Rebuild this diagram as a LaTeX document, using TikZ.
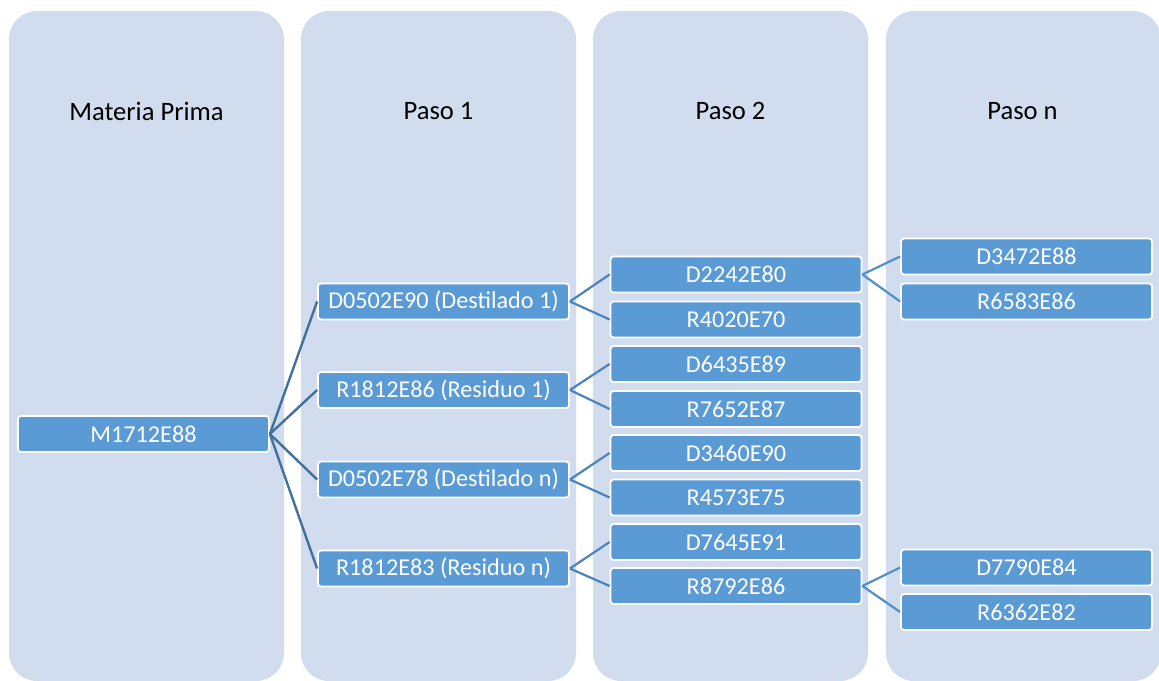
\documentclass[tikz,border=0pt]{standalone}
\usepackage{fontspec}
\setmainfont{Carlito}
\definecolor{lanefill}{HTML}{D1DDEE}
\definecolor{boxfill}{HTML}{5B9BD5}
\definecolor{linkA}{HTML}{41719C}
\definecolor{linkB}{HTML}{4A84BE}
\definecolor{linkC}{HTML}{5290CB}
\tikzset{
  lane/.style={fill=lanefill, draw=none, rounded corners=28pt},
  lanetitle/.style={font=\fontsize{26.6}{30}\selectfont, text=black, anchor=center},
  item/.style={rectangle, rounded corners=3pt, fill=boxfill, draw=white, line width=1.8pt,
    minimum width=251pt, minimum height=36pt, inner sep=0pt, text=white,
    font=\fontsize{24.2}{28}\selectfont},
  linkone/.style={draw=linkA, line width=2.4pt},
  linktwo/.style={draw=linkB, line width=2.2pt},
  linkthree/.style={draw=linkC, line width=2.2pt}
}
\begin{document}
\begin{tikzpicture}[x=1pt, y=-1pt]
\useasboundingbox (0,0) rectangle (1159,680);
\fill[white] (0,0) rectangle (1159,680);

% four vertical lanes
\path[lane] (9,11) rectangle (284,681);
\path[lane] (301,11) rectangle (576,681);
\path[lane] (593,11) rectangle (868,681);
\path[lane] (886,11) rectangle (1161,681);

% lane headings
\node[lanetitle] (t0) at (146.5,111) {Materia Prima};
\node[lanetitle] (t1) at (438.5,111) {Paso 1};
\node[lanetitle] (t2) at (730.5,111) {Paso 2};
\node[lanetitle] (t3) at (1022.5,111) {Paso n};

% raw material
\node[item] (m) at (143.5,434) {M1712E88};

% step 1
\node[item] (a1) at (443.5,301.5) {D0502E90 (Destilado 1)};
\node[item] (a2) at (443.5,390) {R1812E86 (Residuo 1)};
\node[item] (a3) at (443.5,479.5) {D0502E78 (Destilado n)};
\node[item] (a4) at (443.5,568.5) {R1812E83 (Residuo n)};

% step 2
\node[item] (b1) at (736,274.5) {D2242E80};
\node[item] (b2) at (736,319.5) {R4020E70};
\node[item] (b3) at (736,364) {D6435E89};
\node[item] (b4) at (736,409) {R7652E87};
\node[item] (b5) at (736,453) {D3460E90};
\node[item] (b6) at (736,497.5) {R4573E75};
\node[item] (b7) at (736,542) {D7645E91};
\node[item] (b8) at (736,586) {R8792E86};

% step n
\node[item] (c1) at (1026.5,256.5) {D3472E88};
\node[item] (c2) at (1026.5,301.5) {R6583E86};
\node[item] (c3) at (1026.5,567.5) {D7790E84};
\node[item] (c4) at (1026.5,612) {R6362E82};

% connectors
\foreach \t in {a1,a2,a3,a4} \draw[linkone] (m.east) -- (\t.west);
\draw[linktwo] (a1.east) -- (b1.west);
\draw[linktwo] (a1.east) -- (b2.west);
\draw[linktwo] (a2.east) -- (b3.west);
\draw[linktwo] (a2.east) -- (b4.west);
\draw[linktwo] (a3.east) -- (b5.west);
\draw[linktwo] (a3.east) -- (b6.west);
\draw[linktwo] (a4.east) -- (b7.west);
\draw[linktwo] (a4.east) -- (b8.west);
\draw[linkthree] (b1.east) -- (c1.west);
\draw[linkthree] (b1.east) -- (c2.west);
\draw[linkthree] (b8.east) -- (c3.west);
\draw[linkthree] (b8.east) -- (c4.west);
\end{tikzpicture}
\end{document}
